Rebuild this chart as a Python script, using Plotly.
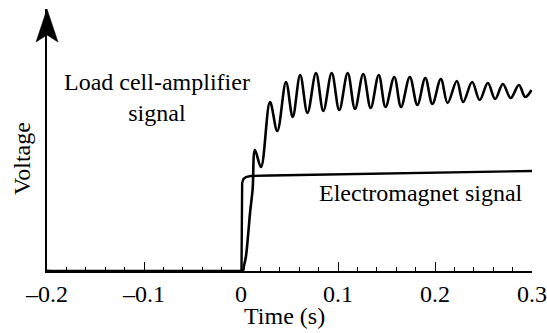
import plotly.graph_objects as go

# Electromagnet signal (time s, voltage arb. units)
em_t = [-0.2, 0.0005, 0.0012, 0.0025, 0.005, 0.01, 0.03, 0.06, 0.1, 0.15, 0.2, 0.25, 0.3]
em_v = [0.0, 0.0, 0.88, 0.92, 0.94, 0.95, 0.955, 0.96, 0.97, 0.98, 0.99, 0.995, 1.0]

# Load cell-amplifier signal
lc_t = [-0.2, 0.0015, 0.003, 0.005, 0.0075, 0.0093, 0.012, 0.0144, 0.0206, 0.0299, 0.0374,
        0.0464, 0.0533, 0.061, 0.0685, 0.0773, 0.0849, 0.0935, 0.1013, 0.110, 0.1175,
        0.126, 0.1337, 0.142, 0.149, 0.158, 0.165, 0.174, 0.1818, 0.190, 0.1973,
        0.206, 0.213, 0.2225, 0.229, 0.2383, 0.246, 0.2545, 0.262, 0.270, 0.278,
        0.2865, 0.293, 0.2995]
lc_v = [0.0, 0.0, 0.05, 0.14, 0.38, 0.58, 0.82, 1.21, 1.04, 1.69, 1.40,
        1.89, 1.54, 1.96, 1.58, 1.98, 1.60, 1.98, 1.61, 1.98, 1.62,
        1.97, 1.63, 1.96, 1.64, 1.94, 1.64, 1.94, 1.66, 1.93, 1.67,
        1.92, 1.68, 1.90, 1.69, 1.89, 1.71, 1.88, 1.72, 1.87, 1.73,
        1.86, 1.74, 1.81]

x_ticks = [-0.2, -0.1, 0, 0.1, 0.2, 0.3]
x_labels = ["\u20130.2", "\u20130.1", "0", "0.1", "0.2", "0.3"]

FONT = "Liberation Serif"
FS = 24

fig = go.Figure()
fig.add_trace(go.Scatter(x=lc_t, y=lc_v, mode="lines",
                         line=dict(color="black", width=2.6, shape="spline", smoothing=1.0),
                         hoverinfo="skip", cliponaxis=False))
fig.add_trace(go.Scatter(x=em_t, y=em_v, mode="lines",
                         line=dict(color="black", width=2.4),
                         hoverinfo="skip", cliponaxis=False))

W, H = 547, 333
L, R, T, B = 47, 15, 9, 62
pw, ph = W - L - R, H - T - B

def px(xp):
    return (xp - L) / pw

def py(yp):
    return (H - B - yp) / ph

# arrow head on the y axis
ax_tip = (px(47), py(9))
ax_l = (px(36), py(42))
ax_n = (px(47), py(35))
ax_r = (px(58), py(42))
path = (f"M {ax_tip[0]},{ax_tip[1]} L {ax_l[0]},{ax_l[1]} "
        f"L {ax_n[0]},{ax_n[1]} L {ax_r[0]},{ax_r[1]} Z")
fig.add_shape(type="path", path=path, xref="paper", yref="paper",
              fillcolor="black", line=dict(color="black", width=0.5))

fig.update_layout(
    width=W, height=H,
    margin=dict(l=L, r=R, t=T, b=B, autoexpand=False),
    paper_bgcolor="white", plot_bgcolor="white",
    showlegend=False,
    font=dict(family=FONT, size=FS, color="black"),
    xaxis=dict(range=[-0.2, 0.3], showgrid=False, zeroline=False, automargin=False,
               showline=True, linecolor="black", linewidth=1.6,
               tickmode="array", tickvals=x_ticks, ticktext=x_labels,
               ticks="inside", ticklen=9, tickwidth=1.2, tickcolor="black",
               minor=dict(dtick=0.02, tick0=0, ticks="inside", ticklen=4,
                          tickwidth=1.2, tickcolor="black", showgrid=False),
               tickfont=dict(family=FONT, size=FS, color="black")),
    yaxis=dict(range=[0, 2.62], showgrid=False, zeroline=False, automargin=False,
               showline=True, linecolor="black", linewidth=1.6,
               showticklabels=False, ticks=""),
)

common = dict(xref="paper", yref="paper", showarrow=False,
              xanchor="center", yanchor="middle")
fig.add_annotation(text="Load cell-amplifier<br>signal", x=px(157), y=py(97),
                   font=dict(family=FONT, size=FS), align="center", **common)
fig.add_annotation(text="Electromagnet signal", x=px(421), y=py(193),
                   font=dict(family=FONT, size=FS), **common)
fig.add_annotation(text="Voltage", x=px(22), y=py(159), textangle=-90,
                   font=dict(family=FONT, size=FS), **common)
fig.add_annotation(text="Time (s)", x=px(284), y=py(316),
                   font=dict(family=FONT, size=FS), **common)

fig.write_html("out.html")
